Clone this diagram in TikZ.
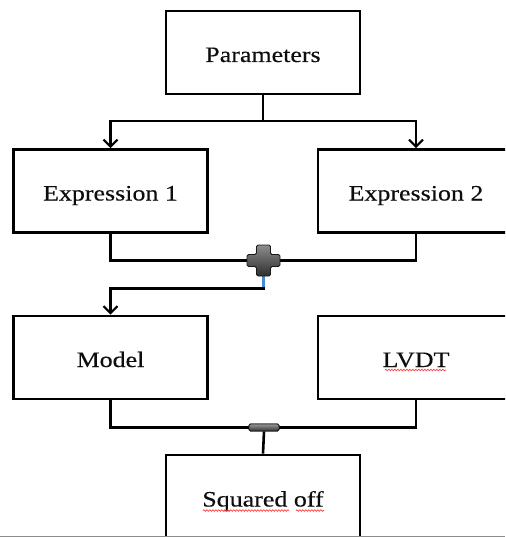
\documentclass[tikz,border=0pt]{standalone}
\usepackage{fontspec}
\setmainfont{Liberation Serif}[FakeStretch=1.18, FakeBold=0.35]
\usetikzlibrary{arrows.meta,decorations.pathmorphing}

\begin{document}
\begin{tikzpicture}[x=1pt,y=-1pt,
  box/.style={draw=black, line width=2.7pt, minimum width=194pt, minimum height=83pt,
    inner sep=0pt, text height=19pt, text depth=0pt,
    font=\fontsize{22}{26}\selectfont, text=black!95},
  link/.style={line width=2.6pt},
  arr/.style={link,-{Straight Barb[length=7pt,width=14pt,line width=2.2pt]}},
  spell/.style={red!75, line width=0.7pt, decorate,
    decoration={snake, amplitude=0.8pt, segment length=3pt}},
  minusbar/.style={draw=black!90, line width=0.8pt, rounded corners=1.5pt,
    top color=black!40, bottom color=black!80, minimum width=30pt,
    minimum height=7pt, inner sep=0pt},
  joint/.style={minimum width=33pt, minimum height=31pt, inner sep=0pt}
]
\useasboundingbox (0,0) rectangle (505,537);
\clip (0,0) rectangle (505,537);

% boxes
\node[box] (params) at (263,52.5) {Parameters};
\node[box] (expr1) at (110.5,191) {Expression 1};
\node[box, minimum width=196pt] (expr2) at (416,191) {Expression 2};
\node[box] (model) at (110.5,357.5) {Model};
\node[box, minimum width=196pt] (lvdt) at (416,357.5) {LVDT};
\node[box, minimum height=84pt] (squared) at (263,497) {Squared off};

% junction points
\node[joint] (plus) at (263.5,260.5) {};
\node[minusbar] (minus) at (264,427.5) {};
\coordinate (split) at (263,121);
\coordinate (turn) at (263.5,288.5);

% Parameters fans out to both expressions
\draw[link] (params.south) -- (split);
\draw[arr] (split) -| (expr1.north);
\draw[arr] (split) -| (expr2.north);

% expressions are summed
\draw[link] (expr1.south) |- (plus.west);
\draw[link] (expr2.south) |- (plus.east);
\draw[line width=2.4pt, color={rgb,255:red,70;green,140;blue,210}] (plus.south) -- (turn);
\draw[arr] ([xshift=1.2pt]turn) -| (model.north);

% model and measurement are differenced
\draw[link] (model.south) |- (minus.west);
\draw[link] (lvdt.south) |- (minus.east);
\draw[link] (minus.south) -- (squared.north);
\node[minusbar] at (minus) {};

% plus sign
\shade[top color=black!45, bottom color=black!82, draw=black!90, line width=0.8pt,
       rounded corners=1.5pt]
  (plus.center) ++(-7,-15.5) -- ++(14,0) -- ++(0,9.5) -- ++(9.5,0) -- ++(0,12)
  -- ++(-9.5,0) -- ++(0,9.5) -- ++(-14,0) -- ++(0,-9.5) -- ++(-9.5,0)
  -- ++(0,-12) -- ++(9.5,0) -- cycle;

% spelling underlines
\draw[spell] ([shift={(-31,3)}]lvdt.base) -- ([shift={(30,3)}]lvdt.base);
\draw[spell] ([shift={(-60,4)}]squared.base) -- ([shift={(26,4)}]squared.base);
\draw[spell] ([shift={(33,4)}]squared.base) -- ([shift={(61,4)}]squared.base);

% page edge
\draw[black!45, line width=1pt] (0,536.5) -- (505,536.5);
\end{tikzpicture}
\end{document}
